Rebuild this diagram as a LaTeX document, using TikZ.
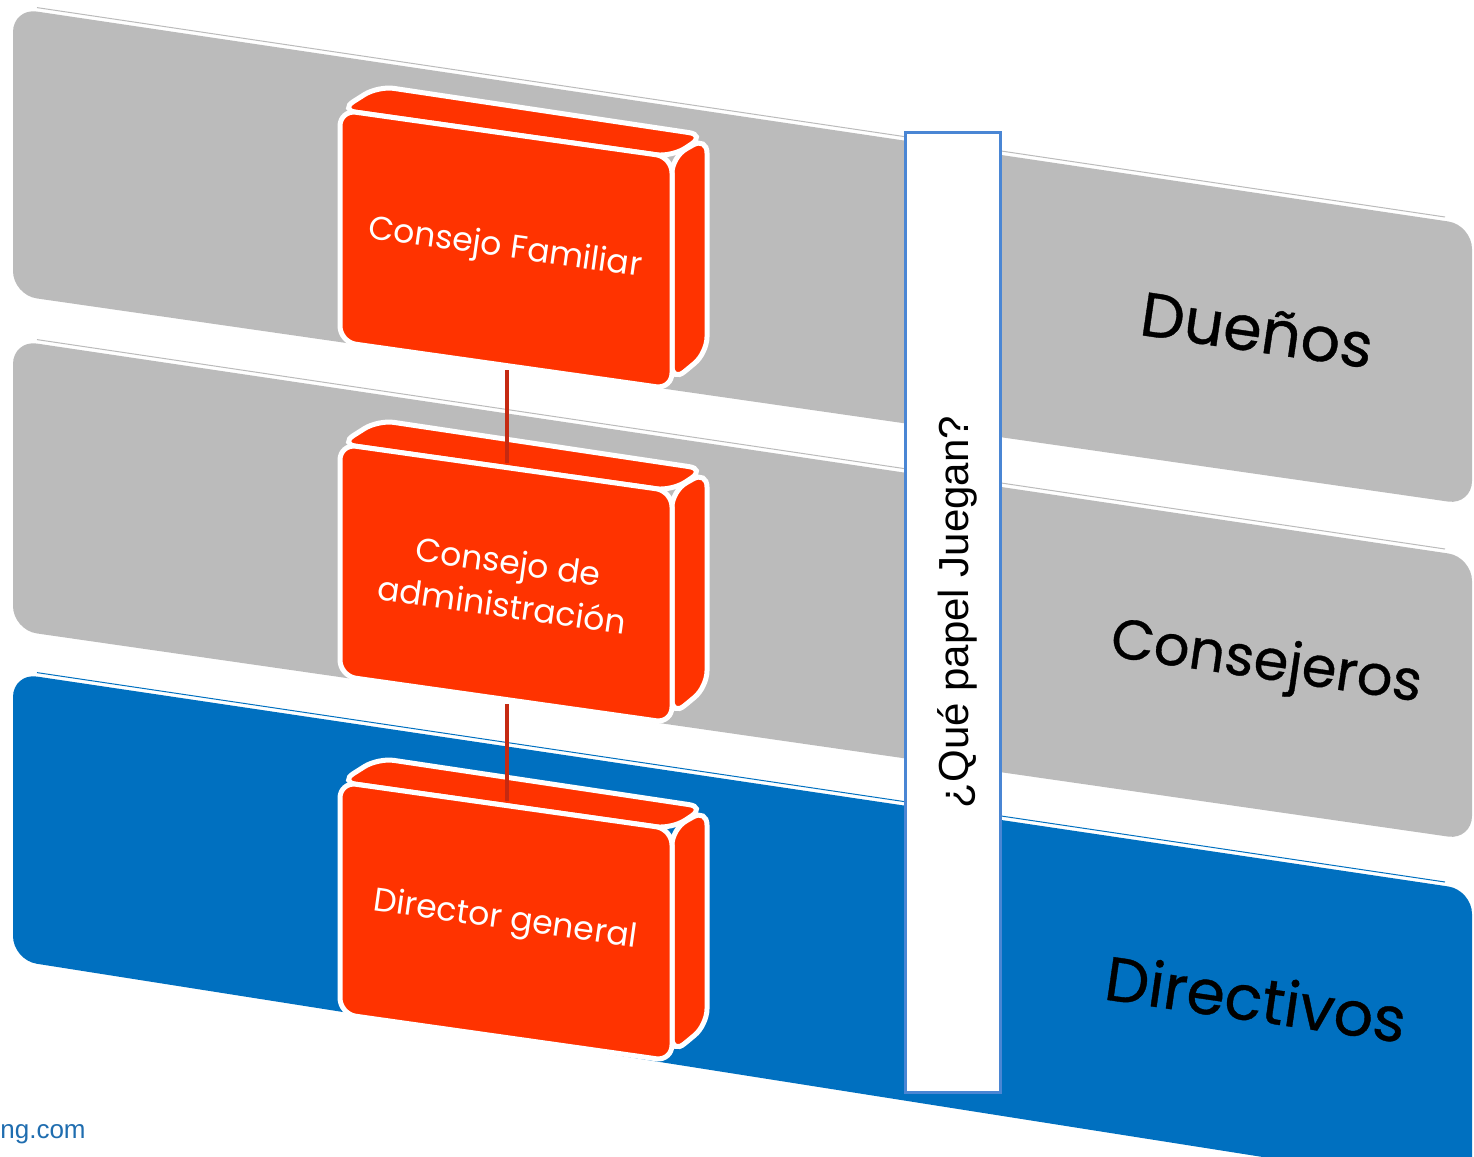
\documentclass[tikz,border=0pt]{standalone}
\usepackage{fontspec}
\setmainfont{Poppins}
\newfontfamily\arialfont{Liberation Sans}
\usetikzlibrary{positioning}

\definecolor{gris}{HTML}{BBBBBB}
\definecolor{azul}{HTML}{0070C0}
\definecolor{naranja}{HTML}{FF3300}
\definecolor{borde}{HTML}{4A86D4}
\definecolor{rojo}{HTML}{C52A12}
\definecolor{enlace}{HTML}{1F6DAF}

\begin{document}
\begin{tikzpicture}[x=0.5pt,y=-0.5pt,
    banda/.style={rounded corners=12pt},
    cara/.style={fill=naranja, draw=white, line width=2.5pt, rounded corners=8pt},
    texto caja/.style={text=white, font=\fontsize{16.5}{22}\selectfont, rotate=-8, align=center},
    nivel/.style={font=\fontsize{31}{36}\selectfont\addfontfeatures{FakeBold=0.6}, rotate=-8.3},
    conector/.style={draw=rojo, line width=2pt}]
    \useasboundingbox (0,0) rectangle (1474,1157);
    \clip (0,0) rectangle (1474,1157);
    % Bands
    \fill [gris, banda] (13,8) -- (1472,225) -- (1472,505) -- (13,295) -- cycle;
    \draw [gris, line width=0.5pt] (37,7.6) -- (1445,217);
    \fill [gris, banda] (13,340) -- (1472,557) -- (1472,840) -- (13,630) -- cycle;
    \draw [gris, line width=0.5pt] (37,339.6) -- (1445,549);
    \fill [azul, banda] (13,673) -- (1472,890) -- (1472,1190) -- (13,960) -- cycle;
    \draw [azul, line width=0.5pt] (37,672.6) -- (1445,882);
    % Boxes
    \foreach \dy/\nombre/\texto in {0/cf/{Consejo Familiar}, 334/ca/{Consejo de\\administración}, 672/dg/{Director general}} {
      \begin{scope}[shift={(0,\dy)}]
        \draw [cara] (340,110) -- (378,86) -- (705,135) -- (672,157) -- cycle;
        \draw [cara] (672,157) -- (707,137) -- (707,353) -- (672,382) -- cycle;
        \draw [cara] (340,110) -- (672,157) -- (672,389) -- (340,342) -- cycle;
        \node [texto caja] (\nombre) at (505,249) {\texto};
        \coordinate (\nombre-arriba) at (507,129);
        \coordinate (\nombre-abajo) at (507,370);
      \end{scope}
    }
    % Connectors
    \draw [conector] (cf-abajo) -- (ca-arriba);
    \draw [conector] (ca-abajo) -- (dg-arriba);
    % Question
    \draw [borde, fill=white, line width=1.5pt] (905,132) rectangle (1000,1092);
    \node [rotate=90, font=\arialfont\fontsize{21}{24}\selectfont] (pregunta) at (957,612) {¿Qué papel Juegan?};
    % Levels
    \node [nivel] (duenos) at (1257,330) {Dueños};
    \node [nivel, font=\fontsize{28}{34}\selectfont\addfontfeatures{FakeBold=0.6}] (consejeros) at (1266,665) {Consejeros};
    \node [nivel] (directivos) at (1256,998) {Directivos};
    % Link
    \node [anchor=base west, text=enlace, font=\arialfont\fontsize{13}{15}\selectfont, inner sep=0pt] (web) at (0,1138) {ng.com};
\end{tikzpicture}
\end{document}
